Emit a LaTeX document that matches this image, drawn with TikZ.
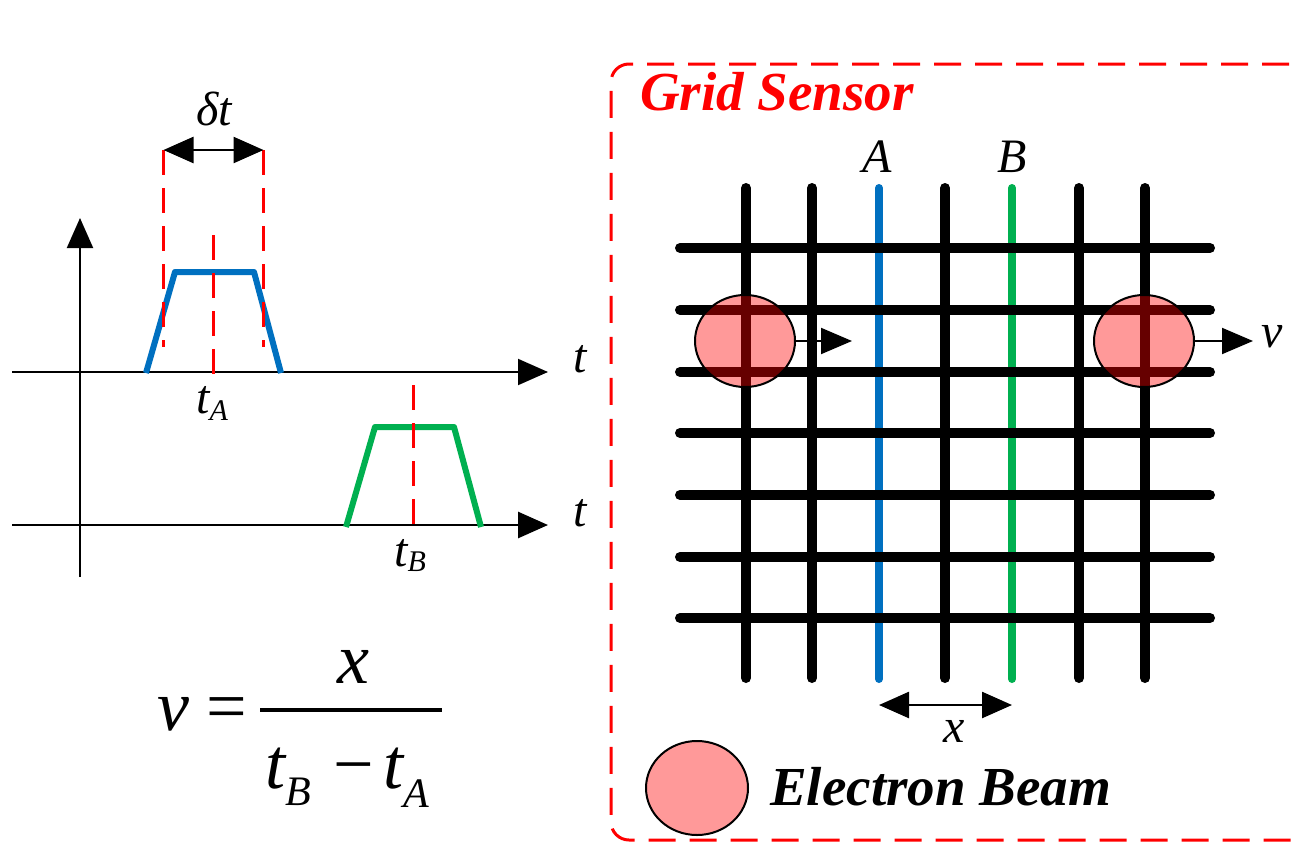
\documentclass[tikz,border=0pt]{standalone}
\usepackage{fontspec}
\setmainfont{Liberation Serif}
\usetikzlibrary{arrows.meta,shapes.geometric}
\definecolor{oblue}{HTML}{0070C0}
\definecolor{ogreen}{HTML}{00B050}
\begin{document}
\begin{tikzpicture}[x=1pt,y=-1pt,
  axisarrow/.style={line width=2pt,-{Triangle[length=30pt,width=26pt]}},
  rdash/.style={red,line width=2.5pt,dash pattern=on 25pt off 13pt},
  rborder/.style={red,line width=3pt,dash pattern=on 27pt off 14pt,rounded corners=18pt},
  pulseA/.style={oblue,line width=6pt,line join=round},
  pulseB/.style={ogreen,line width=6pt,line join=round},
  wire/.style={line width=10pt,line cap=round},
  cwire/.style={line width=8pt,line cap=round},
  dimarrow/.style={line width=2.5pt,{Triangle[length=30pt,width=26pt]}-{Triangle[length=30pt,width=26pt]}},
  thinarrow/.style={line width=2pt,-{Triangle[length=31pt,width=26pt]}},
  lbl/.style={font=\fontsize{48}{50}\selectfont\itshape,inner sep=0pt,anchor=base},
  fml/.style={font=\fontsize{72}{76}\selectfont\itshape,inner sep=0pt,anchor=base},
  bold/.style={font=\fontsize{55}{60}\selectfont\bfseries\itshape,inner sep=0pt,anchor=base west},
  beam/.style={ellipse,draw=black,line width=2pt,fill=red,fill opacity=0.4,draw opacity=1,inner sep=0pt,minimum width=100pt,minimum height=92pt}
]
\useasboundingbox (0,0) rectangle (1293,841);
\fill[white] (0,0) rectangle (1293,841);
\clip (0,0) rectangle (1293,841);

% ---------- left: time plots ----------
\coordinate (vb) at (80,577); \coordinate (vt) at (80,218);
\draw[axisarrow] (vb) -- (vt);
\coordinate (a1s) at (12,372); \coordinate (a1e) at (548,372);
\draw[axisarrow] (a1s) -- (a1e);
\coordinate (a2s) at (12,525); \coordinate (a2e) at (548,525);
\draw[axisarrow,line width=2.8pt] (a2s) -- (a2e);

\draw[pulseA] (146,373) -- (175,272) -- (254,272) -- (281,373);
\draw[pulseB] (346,527) -- (375,427) -- (454,427) -- (481,527);

\coordinate (dl1) at (163.5,150); \coordinate (dl2) at (163.5,347);
\coordinate (dr1) at (263.5,150); \coordinate (dr2) at (263.5,347);
\coordinate (dc1) at (213.5,235); \coordinate (dc2) at (213.5,377);
\coordinate (dg1) at (413.5,385); \coordinate (dg2) at (413.5,527);
\draw[rdash] (dl1) -- (dl2);
\draw[rdash] (dr1) -- (dr2);
\draw[rdash] (dc1) -- (dc2);
\draw[rdash] (dg1) -- (dg2);
\draw[dimarrow] (dl1) -- (dr1);

\node[lbl] (dt) at (214,125) {δt};
\node[lbl] (t1) at (580,372) {t};
\node[lbl] (t2) at (580,526) {t};
\node[lbl,anchor=base west] (tA) at (196,413) {t\raisebox{-7pt}{\fontsize{30}{30}\selectfont A}};
\node[lbl,anchor=base west] (tB) at (394,566) {t\raisebox{-5pt}{\fontsize{30}{30}\selectfont B}};

% ---------- formula ----------
\node[fml] (fv) at (173,730) {v};
\node[fml,font=\fontsize{72}{76}\selectfont] (feq) at (227,730) {=};
\draw[line width=3.5pt] (260,710) -- (442,710);
\node[fml] (fx) at (353,683) {x};
\node[fml,anchor=base west] (fdB) at (265,788) {t\raisebox{-17pt}{\fontsize{42}{42}\selectfont B}};
\node[fml,font=\fontsize{72}{76}\selectfont] (fmin) at (354,788) {−};
\node[fml,anchor=base west] (fdA) at (383,788) {t\raisebox{-19pt}{\fontsize{42}{42}\selectfont A}};

% ---------- right: grid sensor ----------
\draw[rborder] (1330,64) -- (611,64) -- (611,840) -- (1330,840);
\node[bold,text=red] (gs) at (640,110) {Grid Sensor};

\foreach \x in {746,812,945,1079,1145} {\draw[wire] (\x,188) -- (\x,678);}
\draw[cwire,oblue] (879,188) -- (879,679);
\draw[cwire,ogreen] (1012,188) -- (1012,679);
\foreach \y in {248,310,372,433,495,557,618} {\draw[wire] (680,\y) -- (1210,\y);}

\node[lbl] (A) at (877,172) {A};
\node[lbl] (B) at (1012,172) {B};

\node[beam] (b1) at (745,341) {};
\node[beam] (b2) at (1144,341) {};
\coordinate (h1) at (852,341);
\coordinate (h2) at (1253,341);
\draw[thinarrow] (b1.east) -- (h1);
\draw[thinarrow] (b2.east) -- (h2);
\node[lbl] (v) at (1272,347) {v};

\coordinate (xa) at (879,705); \coordinate (xb) at (1012,705);
\draw[dimarrow] (xa) -- (xb);
\node[lbl] (xl) at (954,742) {x};

\node[beam,minimum width=102pt,minimum height=94pt] (leg) at (697,788) {};
\node[bold] (eb) at (770,805) {Electron Beam};
\end{tikzpicture}
\end{document}
